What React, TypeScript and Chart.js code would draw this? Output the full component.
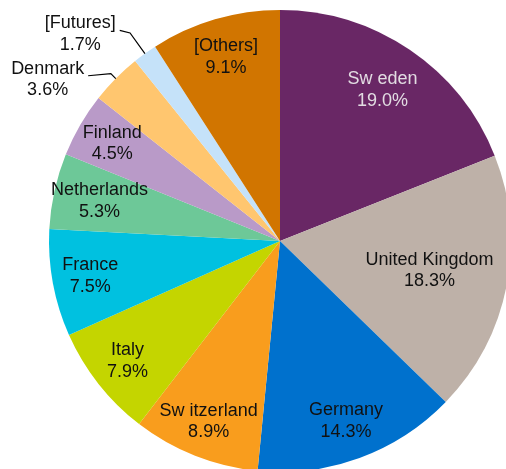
import React, { useEffect, useRef } from "react";
import { Chart, registerables } from "chart.js";

Chart.register(...registerables);

const categories = [
  "Sw eden",
  "United Kingdom",
  "Germany",
  "Sw itzerland",
  "Italy",
  "France",
  "Netherlands",
  "Finland",
  "Denmark",
  "[Futures]",
  "[Others]",
];
const values = [19.0, 18.3, 14.3, 8.9, 7.9, 7.5, 5.3, 4.5, 3.6, 1.7, 9.1];
const colors = [
  "#692765",
  "#BEB1A8",
  "#0071CD",
  "#F99D1D",
  "#C4D500",
  "#00C1E0",
  "#6DC898",
  "#B99AC8",
  "#FFC66F",
  "#C5E2F9",
  "#D17500",
];
const textColors = ["#E2DCE2", "#111", "#111", "#111", "#111", "#111", "#111", "#111", "#111", "#111", "#111"];
// radial placement of inside labels (fraction of radius)
const labelRadius = [0.79, 0.66, 0.83, 0.84, 0.84, 0.835, 0.8, 0.84, 0, 0, 0.83];
// outside labels: polar position of text centre (deg from top, fraction of r) and elbow fraction
const outside: Record<number, { angle: number; dist: number; elbow: number }> = {
  8: { angle: 304.8, dist: 1.225, elbow: 1.03 },
  9: { angle: 316.0, dist: 1.245, elbow: 1.11 },
};

const FONT = '18px "Liberation Sans", Arial, sans-serif';
const LINE_H = 21.5;

const labelPlugin = {
  id: "pieLabels",
  afterDatasetsDraw(chart: any) {
    const ctx = chart.ctx;
    const meta = chart.getDatasetMeta(0);
    ctx.save();
    ctx.font = FONT;
    ctx.textAlign = "center";
    ctx.textBaseline = "middle";
    meta.data.forEach((arc: any, i: number) => {
      const p = arc.getProps(["x", "y", "startAngle", "endAngle", "outerRadius"], true);
      const mid = (p.startAngle + p.endAngle) / 2;
      const r = p.outerRadius;
      const lines = [categories[i], values[i].toFixed(1) + "%"];
      let cx: number, cy: number;
      const o = outside[i];
      if (o) {
        const a = (o.angle * Math.PI) / 180 - Math.PI / 2;
        cx = p.x + Math.cos(a) * r * o.dist;
        cy = p.y + Math.sin(a) * r * o.dist;
        const w = ctx.measureText(lines[0]).width;
        const ex = p.x + Math.cos(mid) * r * o.elbow;
        const ey = p.y + Math.sin(mid) * r * o.elbow;
        const sx = p.x + Math.cos(mid) * r;
        const sy = p.y + Math.sin(mid) * r;
        const tx = cx + w / 2 + 4;
        const ty = cy - LINE_H / 2 + 7;
        ctx.strokeStyle = "#000";
        ctx.lineWidth = 1.2;
        ctx.beginPath();
        ctx.moveTo(tx, ty);
        ctx.lineTo(ex, ey);
        ctx.lineTo(sx, sy);
        ctx.stroke();
      } else {
        cx = p.x + Math.cos(mid) * r * labelRadius[i];
        cy = p.y + Math.sin(mid) * r * labelRadius[i];
      }
      ctx.fillStyle = textColors[i];
      ctx.fillText(lines[0], cx, cy - LINE_H / 2);
      ctx.fillText(lines[1], cx, cy + LINE_H / 2);
    });
    ctx.restore();
  },
};

export default function App() {
  const ref = useRef<HTMLCanvasElement>(null);
  useEffect(() => {
    if (!ref.current) return;
    const chart = new Chart(ref.current, {
      type: "pie",
      data: {
        labels: categories,
        datasets: [
          {
            data: values,
            backgroundColor: colors,
            borderWidth: 0,
          },
        ],
      },
      options: {
        responsive: false,
        animation: false,
        devicePixelRatio: 1,
        layout: { padding: { left: 49, right: 49, top: 10, bottom: 10 } },
        plugins: {
          legend: { display: false },
          tooltip: { enabled: false },
        },
      },
      plugins: [labelPlugin],
    });
    return () => chart.destroy();
  }, []);
  return (
    <div
      style={{
        position: "absolute",
        left: 0,
        top: 0,
        width: 506,
        height: 469,
        overflow: "hidden",
        background: "#fff",
      }}
    >
      <canvas ref={ref} width={560} height={482} style={{ display: "block" }} />
    </div>
  );
}
